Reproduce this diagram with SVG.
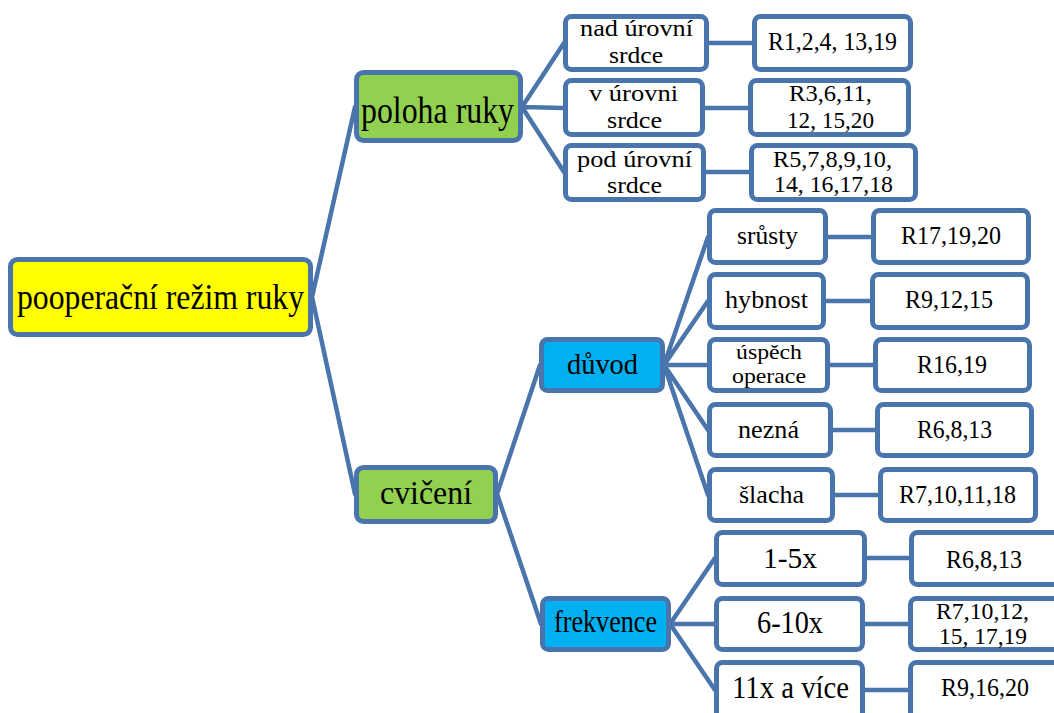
<svg xmlns="http://www.w3.org/2000/svg" width="1054" height="713" viewBox="0 0 1054 713">
  <style>
    .box { stroke: #4A75AC; stroke-width: 5; }
    .white { fill: #FFFFFF; }
    .root { fill: #FFFF00; }
    .green { fill: #92D050; }
    .blue { fill: #00B0F0; }
    .link { stroke: #4A75AC; stroke-width: 4.5; fill: none; stroke-linecap: round; }
    text { font-family: "Liberation Serif", "Times New Roman", serif; fill: #000000; text-anchor: middle; }
    .two { font-size: 24px; }
  </style>
  <rect width="1054" height="713" fill="#FFFFFF"/>

  <!-- connectors -->
  <g id="connectors">
    <path class="link" d="M312 297 L355 107 M312 297 L355 494"/>
    <path class="link" d="M522 107 L564 43 M522 107 L564 108 M522 107 L564 172"/>
    <path class="link" d="M708 43 H752 M704 108 H749 M705 172 H750"/>
    <path class="link" d="M497 494 L540 365 M497 494 L541 624"/>
    <path class="link" d="M664 365 L708 237 M664 365 L708 301 M664 365 L708 365 M664 365 L708 430 M664 365 L708 495"/>
    <path class="link" d="M827 237 H872 M825 301 H871 M829 365 H874 M832 430 H876 M834 495 H879"/>
    <path class="link" d="M670 624 L715 558 M670 624 L715 624 M670 624 L715 690"/>
    <path class="link" d="M866 558 H910 M864 624 H909 M864 690 H909"/>
  </g>

  <!-- root -->
  <g id="node-root">
    <rect class="box root" x="10.5" y="259.5" width="300" height="75" rx="7"/>
    <text x="160.5" y="309" font-size="36" textLength="287" lengthAdjust="spacingAndGlyphs">pooperační režim ruky</text>
  </g>

  <!-- arm position branch -->
  <g id="node-poloha">
    <rect class="box green" x="356.5" y="72.5" width="164" height="68" rx="7"/>
    <text x="437.5" y="123" font-size="38" textLength="153" lengthAdjust="spacingAndGlyphs">poloha ruky</text>
  </g>
  <g id="node-nad">
    <rect class="box white" x="565.5" y="16.5" width="141" height="53" rx="6"/>
    <text class="two" x="636.5" y="36" textLength="113" lengthAdjust="spacingAndGlyphs">nad úrovní</text>
    <text class="two" x="636" y="63" textLength="54" lengthAdjust="spacingAndGlyphs">srdce</text>
  </g>
  <g id="node-nad-ref">
    <rect class="box white" x="754.5" y="16.5" width="156" height="53" rx="6"/>
    <text x="832.5" y="50" font-size="26" textLength="129" lengthAdjust="spacingAndGlyphs">R1,2,4, 13,19</text>
  </g>
  <g id="node-v">
    <rect class="box white" x="565.5" y="80.5" width="137" height="54" rx="6"/>
    <text class="two" x="633.5" y="101" textLength="89" lengthAdjust="spacingAndGlyphs">v úrovni</text>
    <text class="two" x="634.5" y="128" textLength="55" lengthAdjust="spacingAndGlyphs">srdce</text>
  </g>
  <g id="node-v-ref">
    <rect class="box white" x="750.5" y="80.5" width="158" height="54" rx="6"/>
    <text class="two" x="830.5" y="101" textLength="83" lengthAdjust="spacingAndGlyphs">R3,6,11,</text>
    <text class="two" x="830.5" y="128" textLength="87" lengthAdjust="spacingAndGlyphs">12, 15,20</text>
  </g>
  <g id="node-pod">
    <rect class="box white" x="565.5" y="145.5" width="138" height="54" rx="6"/>
    <text class="two" x="634.5" y="167" textLength="115" lengthAdjust="spacingAndGlyphs">pod úrovní</text>
    <text class="two" x="634.5" y="193" textLength="55" lengthAdjust="spacingAndGlyphs">srdce</text>
  </g>
  <g id="node-pod-ref">
    <rect class="box white" x="751.5" y="145.5" width="164" height="54" rx="6"/>
    <text class="two" x="832.5" y="167" textLength="119" lengthAdjust="spacingAndGlyphs">R5,7,8,9,10,</text>
    <text class="two" x="833.5" y="192" textLength="119" lengthAdjust="spacingAndGlyphs">14, 16,17,18</text>
  </g>

  <!-- exercise branch -->
  <g id="node-cviceni">
    <rect class="box green" x="356.5" y="467.5" width="139" height="54" rx="7"/>
    <text x="426" y="504" font-size="34" textLength="92" lengthAdjust="spacingAndGlyphs">cvičení</text>
  </g>
  <g id="node-duvod">
    <rect class="box blue" x="541.5" y="339.5" width="121" height="51" rx="6"/>
    <text x="602.5" y="374" font-size="30" textLength="71" lengthAdjust="spacingAndGlyphs">důvod</text>
  </g>
  <g id="node-srusty">
    <rect class="box white" x="709.5" y="210.5" width="116" height="52" rx="6"/>
    <text x="767.5" y="244" font-size="26" textLength="61" lengthAdjust="spacingAndGlyphs">srůsty</text>
  </g>
  <g id="node-srusty-ref">
    <rect class="box white" x="873.5" y="210.5" width="155" height="52" rx="6"/>
    <text x="951" y="244" font-size="26" textLength="100" lengthAdjust="spacingAndGlyphs">R17,19,20</text>
  </g>
  <g id="node-hybnost">
    <rect class="box white" x="709.5" y="274.5" width="114" height="53" rx="6"/>
    <text x="766.5" y="308" font-size="26" textLength="83" lengthAdjust="spacingAndGlyphs">hybnost</text>
  </g>
  <g id="node-hybnost-ref">
    <rect class="box white" x="872.5" y="274.5" width="155" height="53" rx="6"/>
    <text x="949" y="308" font-size="26" textLength="88" lengthAdjust="spacingAndGlyphs">R9,12,15</text>
  </g>
  <g id="node-uspech">
    <rect class="box white" x="709.5" y="339.5" width="118" height="51" rx="6"/>
    <text x="769" y="359" font-size="22" textLength="66" lengthAdjust="spacingAndGlyphs">úspěch</text>
    <text x="769" y="383" font-size="22" textLength="74" lengthAdjust="spacingAndGlyphs">operace</text>
  </g>
  <g id="node-uspech-ref">
    <rect class="box white" x="875.5" y="339.5" width="154" height="51" rx="6"/>
    <text x="952" y="373" font-size="26" textLength="70" lengthAdjust="spacingAndGlyphs">R16,19</text>
  </g>
  <g id="node-nezna">
    <rect class="box white" x="709.5" y="404.5" width="121" height="51" rx="6"/>
    <text x="768.5" y="438" font-size="26" textLength="61" lengthAdjust="spacingAndGlyphs">nezná</text>
  </g>
  <g id="node-nezna-ref">
    <rect class="box white" x="877.5" y="404.5" width="154" height="51" rx="6"/>
    <text x="954.5" y="438" font-size="26" textLength="75" lengthAdjust="spacingAndGlyphs">R6,8,13</text>
  </g>
  <g id="node-slacha">
    <rect class="box white" x="709.5" y="469.5" width="123" height="51" rx="6"/>
    <text x="771.5" y="503" font-size="26" textLength="65" lengthAdjust="spacingAndGlyphs">šlacha</text>
  </g>
  <g id="node-slacha-ref">
    <rect class="box white" x="880.5" y="469.5" width="155" height="51" rx="6"/>
    <text x="957.5" y="503" font-size="26" textLength="117" lengthAdjust="spacingAndGlyphs">R7,10,11,18</text>
  </g>

  <g id="node-frekvence">
    <rect class="box blue" x="542.5" y="598.5" width="126" height="51" rx="6"/>
    <text x="605.5" y="632" font-size="32" textLength="103" lengthAdjust="spacingAndGlyphs">frekvence</text>
  </g>
  <g id="node-f1">
    <rect class="box white" x="716.5" y="532.5" width="148" height="52" rx="6"/>
    <text x="790" y="568" font-size="30" textLength="54" lengthAdjust="spacingAndGlyphs">1-5x</text>
  </g>
  <g id="node-f1-ref">
    <rect class="box white" x="911.5" y="532.5" width="150" height="52" rx="6"/>
    <text x="984" y="568" font-size="25" textLength="76" lengthAdjust="spacingAndGlyphs">R6,8,13</text>
  </g>
  <g id="node-f2">
    <rect class="box white" x="716.5" y="598.5" width="146" height="51" rx="6"/>
    <text x="790" y="633" font-size="31" textLength="66" lengthAdjust="spacingAndGlyphs">6-10x</text>
  </g>
  <g id="node-f2-ref">
    <rect class="box white" x="910.5" y="598.5" width="150" height="51" rx="6"/>
    <text x="982.5" y="619" font-size="23" textLength="93" lengthAdjust="spacingAndGlyphs">R7,10,12,</text>
    <text x="983" y="644" font-size="23" textLength="88" lengthAdjust="spacingAndGlyphs">15, 17,19</text>
  </g>
  <g id="node-f3">
    <rect class="box white" x="716.5" y="662.5" width="146" height="60" rx="6"/>
    <text x="790.5" y="698" font-size="31" textLength="117" lengthAdjust="spacingAndGlyphs">11x a více</text>
  </g>
  <g id="node-f3-ref">
    <rect class="box white" x="910.5" y="662.5" width="150" height="60" rx="6"/>
    <text x="985" y="696" font-size="25" textLength="88" lengthAdjust="spacingAndGlyphs">R9,16,20</text>
  </g>
</svg>
